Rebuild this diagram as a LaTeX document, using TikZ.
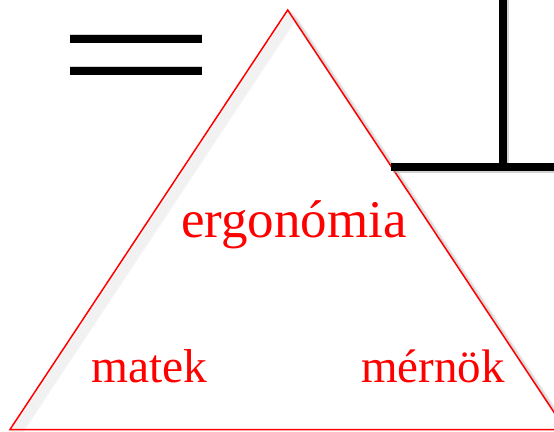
\documentclass[tikz,border=0pt]{standalone}
\usepackage{fontspec}
\setmainfont{Liberation Serif}
\begin{document}
\begin{tikzpicture}[x=1pt,y=-1pt,
  redline/.style={draw=red,line width=1.5pt,line join=miter},
  shadowline/.style={draw=black!30,line width=3pt,opacity=0.15,line join=round},
  barline/.style={draw=black,line width=8pt},
  barshadow/.style={draw=black!35,line width=8pt,opacity=0.5},
  lbl/.style={text=red,inner sep=0pt,anchor=base west}]
\useasboundingbox (0,0) rectangle (554,431);
\fill[white] (0,0) rectangle (554,431);
% triangle corners
\coordinate (A) at (287.7,10);
\coordinate (B) at (10,429.5);
\coordinate (C) at (565.4,429.5);
% soft shadow
\foreach \d in {2,4,6,8}{
  \draw[shadowline] ([shift={(\d,\d)}]B) -- ([shift={(\d,\d)}]A) -- ([shift={(\d,\d)}]C);
}
\draw[redline] (B) -- (A) -- (C) -- cycle;
% equal sign bars
\coordinate (e1a) at (70,39);  \coordinate (e1b) at (202,39);
\coordinate (e2a) at (70,71);  \coordinate (e2b) at (202,71);
\draw[barshadow] ([yshift=1.5]e1a) -- ([yshift=1.5]e1b);
\draw[barshadow] ([yshift=1.5]e2a) -- ([yshift=1.5]e2b);
\draw[barline] (e1a) -- (e1b);
\draw[barline] (e2a) -- (e2b);
% T-shaped line
\coordinate (h1) at (391,167);
\coordinate (h2) at (554,167);
\coordinate (v1) at (503,0);
\coordinate (v2) at (503,167);
\draw[barshadow] ([shift={(1.5,1.5)}]h1) -- ([shift={(1.5,1.5)}]h2);
\draw[barshadow] ([shift={(1.5,0)}]v1) -- ([shift={(1.5,0)}]v2);
\draw[barline] (h1) -- (h2);
\draw[barline] (v1) -- (v2);
% labels
\node[lbl,font=\fontsize{53}{53}\selectfont] (ergo) at (181,237) {ergonómia};
\node[lbl,font=\fontsize{47.5}{47.5}\selectfont] (matek) at (91,382) {matek};
\node[lbl,font=\fontsize{47}{47}\selectfont] (mern) at (361,382) {mérnök};
\end{tikzpicture}
\end{document}
